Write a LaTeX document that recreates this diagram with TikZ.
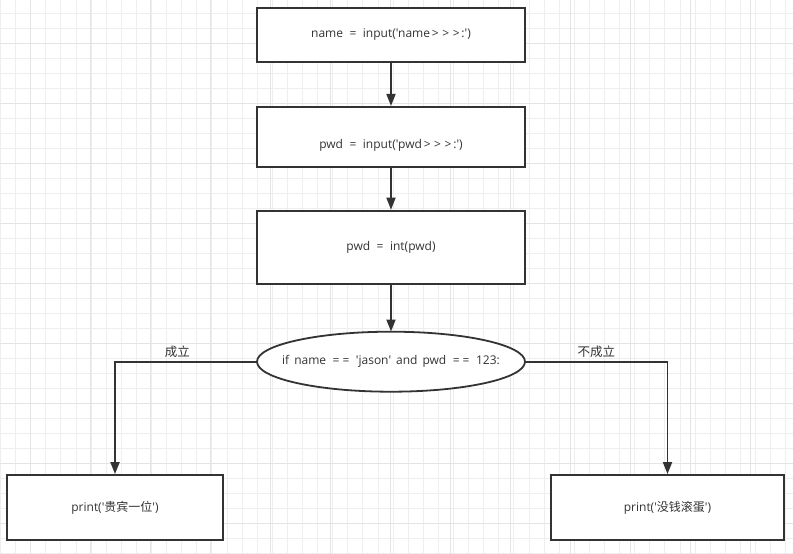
\documentclass[tikz,border=0pt]{standalone}
\usepackage{fontspec}
\setmainfont{Open Sans}[Ligatures=TeXOff, WordSpace=1.6]
\newfontfamily\cjk{Noto Sans CJK SC}
\usetikzlibrary{arrows.meta,shapes.geometric,positioning}
\definecolor{linegray}{HTML}{333333}
\definecolor{textgray}{HTML}{333333}
\definecolor{gridminor}{HTML}{EEEEEE}
\definecolor{gridmajor}{HTML}{E4E4E4}
% wide operator glyphs, as in the source font
\newcommand\eqs{\kern1.5pt=\kern1.5pt}
\newcommand\gts{\kern1.8pt>\kern1.8pt}

\begin{document}
\begin{tikzpicture}[
  x=1pt, y=-1pt,
  >={Triangle[length=12pt,width=9pt]},
  box/.style={draw=linegray, line width=1.8pt, rectangle, fill=white,
              font=\fontsize{12}{14}\selectfont, text=textgray,
              minimum width=268pt, inner sep=0pt, text centered},
  cond/.style={rectangle, font=\fontsize{12}{14}\selectfont, text=textgray,
               minimum width=268pt, minimum height=60pt, inner sep=0pt},
  arr/.style={->, draw=linegray, line width=1.8pt},
  lbl/.style={font=\cjk\fontsize{12.5}{14}\selectfont, text=textgray, inner sep=3pt}]

\useasboundingbox (0,0) rectangle (793,554);
\fill[white] (0,0) rectangle (793,554);

% Background grid
\foreach \x in {0.5,15.6,...,793} \draw[gridminor, line width=0.9pt] (\x,0) -- (\x,554);
\foreach \y in {13.3,28.3,...,554} \draw[gridminor, line width=0.9pt] (0,\y) -- (793,\y);
\foreach \x in {30.5,90.5,...,793} \draw[gridmajor, line width=0.9pt] (\x,0) -- (\x,554);
\foreach \y in {43.3,103.3,...,554} \draw[gridmajor, line width=0.9pt] (0,\y) -- (793,\y);

% Main chain
\node[box, minimum height=54pt] (name) at (391,35) {name \eqs{} input('name\gts\gts\gts:')};
\node[box, minimum height=60pt, text height=24pt, text depth=0pt,
      below=43pt of name] (pwd) {pwd \eqs{} input('pwd\gts\gts\gts:')};
\node[box, minimum height=73pt, below=42pt of pwd] (toint) {pwd \eqs{} int(pwd)};
\node[cond, below=47pt of toint] (check) {};
\draw[linegray, line width=1.8pt, fill=white] (check.center) ellipse [x radius=134, y radius=30];
\node[cond] at (check.center) {if name \eqs\eqs{} 'jason' and pwd \eqs\eqs{} 123:};

% Outcomes
\node[box, minimum width=216pt, minimum height=65pt] (yes) at (115,507.5) {print('{\cjk 贵宾一位}')};
\node[box, minimum width=233pt, minimum height=65pt] (no)  at (667.5,507.5) {print('{\cjk 没钱滚蛋}')};

% Forward chain
\draw[arr] (name)  -- (pwd);
\draw[arr] (pwd)   -- (toint);
\draw[arr] (toint) -- (check);

% Branches
\draw[arr] (check.west) -| node[lbl, pos=0.28, above] {成立} (yes.north);
\draw[arr] (check.east) -| node[lbl, pos=0.25, above] {不成立} (no.north);
\end{tikzpicture}
\end{document}
